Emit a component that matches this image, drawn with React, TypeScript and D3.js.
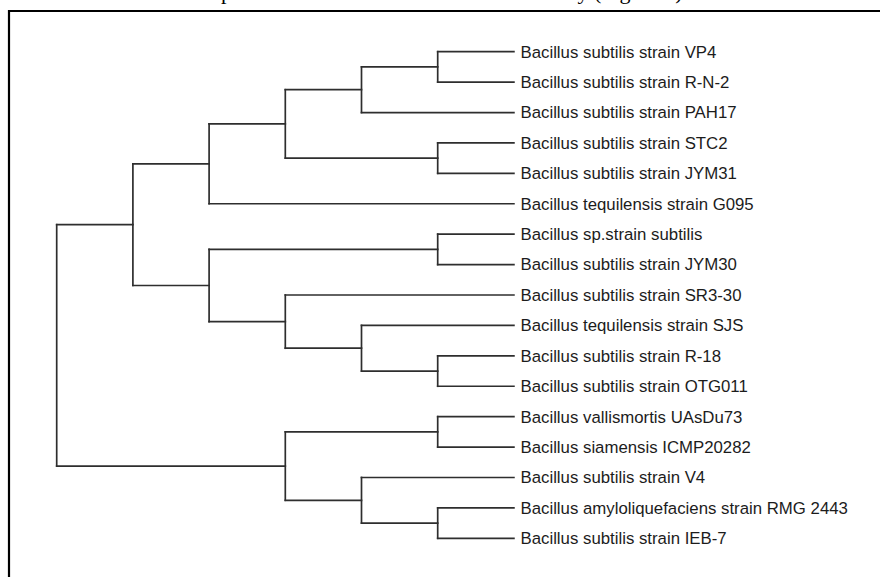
import React from "react";
import * as d3 from "d3";

// Leaf labels, top to bottom
const leaves: string[] = [
  "Bacillus subtilis strain VP4",
  "Bacillus subtilis strain R-N-2",
  "Bacillus subtilis strain PAH17",
  "Bacillus subtilis strain STC2",
  "Bacillus subtilis strain JYM31",
  "Bacillus tequilensis strain G095",
  "Bacillus sp.strain subtilis",
  "Bacillus subtilis strain JYM30",
  "Bacillus subtilis strain SR3-30",
  "Bacillus tequilensis strain SJS",
  "Bacillus subtilis strain R-18",
  "Bacillus subtilis strain OTG011",
  "Bacillus vallismortis UAsDu73",
  "Bacillus siamensis ICMP20282",
  "Bacillus subtilis strain V4",
  "Bacillus amyloliquefaciens strain RMG 2443",
  "Bacillus subtilis strain IEB-7",
];

// hclust-style merges: negative = leaf index (-(i+1)), positive = merge number (1-based)
const mergeLeft: number[] = [-1, 1, -4, 2, 4, -7, -11, -10, -9, 6, 5, -13, -16, -15, 12, 11];
const mergeRight: number[] = [-2, -3, -5, 3, -6, -8, -12, 7, 8, 9, 10, -14, -17, 13, 14, 15];
const mergeHeight: number[] = [1, 2, 1, 3, 4, 1, 1, 2, 3, 4, 5, 1, 1, 2, 3, 6];

// Caption fragment cut at top of the page
const captionLeft = "were compared";
const captionRight = "in this study (Figure 5).";

const W = 880;
const H = 577;

export default function App() {
  const x = d3.scaleLinear().domain([6, 0]).range([56.7, 513.9]);
  const y = d3
    .scalePoint<string>()
    .domain(leaves)
    .range([51.7, 538.3]);

  const nodeY: number[] = [];
  const nodeX: number[] = [];
  const getY = (id: number) => (id < 0 ? (y(leaves[-id - 1]) as number) : nodeY[id - 1]);
  const getX = (id: number) => (id < 0 ? x(0) : nodeX[id - 1]);

  const segs: { x1: number; y1: number; x2: number; y2: number }[] = [];
  mergeHeight.forEach((h, i) => {
    const a = mergeLeft[i];
    const b = mergeRight[i];
    const ya = getY(a);
    const yb = getY(b);
    const nx = x(h);
    nodeX[i] = nx;
    nodeY[i] = (ya + yb) / 2;
    segs.push({ x1: nx, y1: ya, x2: nx, y2: yb });
    segs.push({ x1: nx, y1: ya, x2: getX(a), y2: ya });
    segs.push({ x1: nx, y1: yb, x2: getX(b), y2: yb });
  });

  const border = d3.path();
  border.moveTo(9, H);
  border.lineTo(9, 11);
  border.lineTo(W, 11);

  return (
    <svg
      width={W}
      height={H}
      style={{ position: "absolute", left: 0, top: 0, background: "#fff" }}
    >
      <rect x={0} y={0} width={W} height={H} fill="#fff" />
      <text
        x={135}
        y={-1}
        fontFamily="'Liberation Serif', 'Times New Roman', serif"
        fontSize={22}
        fill="#000"
      >
        {captionLeft}
      </text>
      <text
        x={688}
        y={-1}
        textAnchor="end"
        fontFamily="'Liberation Serif', 'Times New Roman', serif"
        fontSize={22}
        fill="#000"
      >
        {captionRight}
      </text>
      <path d={border.toString()} fill="none" stroke="#000" strokeWidth={2.2} />
      <g stroke="#2e2e2e" strokeWidth={1.7} fill="none" strokeLinecap="square">
        {segs.map((s, i) => (
          <line key={i} x1={s.x1} y1={s.y1} x2={s.x2} y2={s.y2} />
        ))}
      </g>
      <g
        fontFamily="'Liberation Sans', Arial, sans-serif"
        fontSize={16.8}
        fill="#1c1c1c"
      >
        {leaves.map((name) => (
          <text key={name} x={520.5} y={(y(name) as number) + 5.9}>
            {name}
          </text>
        ))}
      </g>
    </svg>
  );
}
